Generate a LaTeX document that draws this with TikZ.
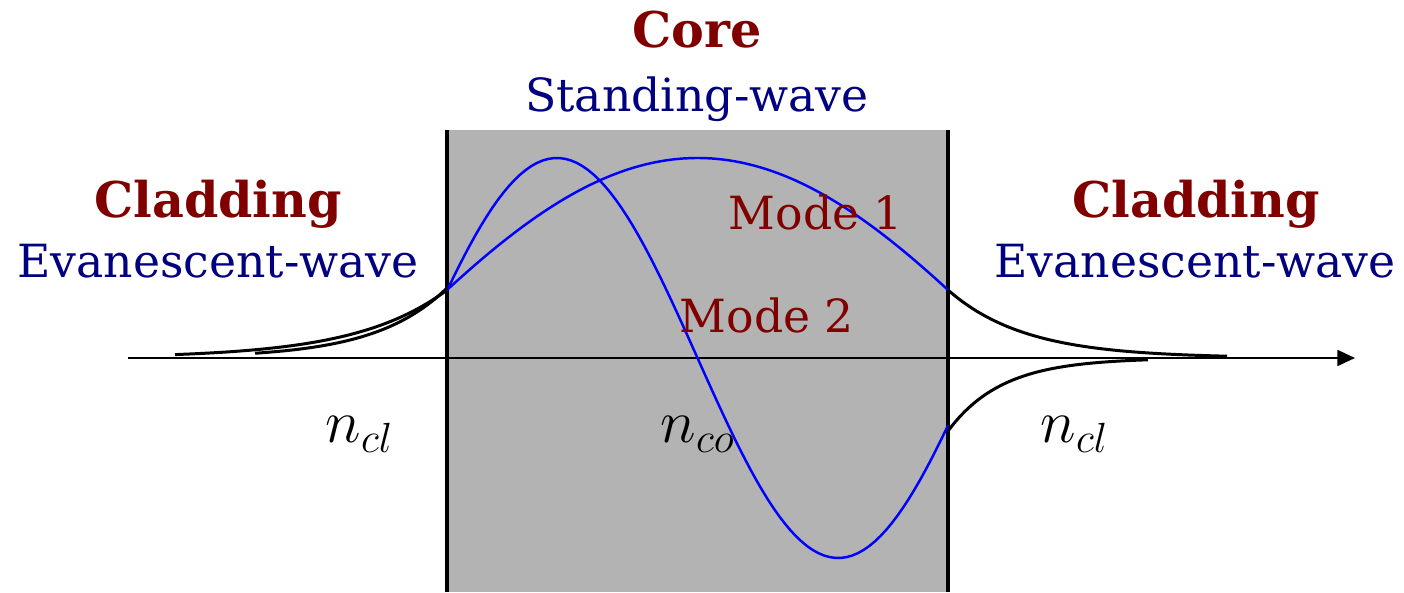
\documentclass[tikz,border=0pt]{standalone}
\usepackage{fontspec}
\setmainfont{DejaVu Serif}
\usepackage{tikz}
\usetikzlibrary{arrows.meta}
\definecolor{titlered}{RGB}{128,0,0}
\definecolor{wavenavy}{RGB}{0,0,128}
\definecolor{coregray}{RGB}{179,179,179}
\tikzset{
  region title/.style={
    font=\fontsize{14}{16}\selectfont\bfseries,
    text=titlered,
    inner sep=0pt,
    anchor=base
  },
  wave kind/.style={
    font=\fontsize{13}{15}\selectfont,
    text=wavenavy,
    inner sep=0pt,
    anchor=base
  },
  mode label/.style={
    font=\fontsize{13}{15}\selectfont,
    text=titlered,
    inner sep=0pt,
    anchor=base
  },
  index label/.style={
    font=\fontsize{17}{20}\selectfont,
    inner sep=0pt,
    anchor=base west
  },
  core mode/.style={
    blue,
    line width=0.7pt
  },
  clad mode/.style={
    black,
    line width=0.85pt
  },
  boundary/.style={
    black,
    line width=0.9pt
  },
  axis line/.style={
    -{Triangle[length=5pt, width=4.5pt]},
    line width=0.65pt
  }
}

\begin{document}
\begin{tikzpicture}
    \useasboundingbox (0, 0) rectangle (14.04, 5.92);

    % 1. core region
    \coordinate (CoreBL) at (4.49, 0);
    \coordinate (CoreTR) at (9.48, 4.62);
    \fill[coregray] (CoreBL) rectangle (CoreTR);
    \draw[boundary] (4.47, 0) -- (4.47, 4.62);
    \draw[boundary] (9.48, 0) -- (9.48, 4.62);

    % 2. axis
    \coordinate (AxisStart) at (1.28, 2.34);
    \coordinate (AxisEnd) at (13.55, 2.34);
    \draw[axis line] (AxisStart) -- (AxisEnd);

    % 3. mode 1 (even)
    % core: 2.0 cos(k (x - xc)), value 0.68 at the interfaces
    \draw[core mode] plot[domain=4.47:9.48, samples=90]
      (\x, {2.34 + 2.0*cos(27.99*(\x - 6.975))});
    \draw[clad mode] plot[domain=1.75:4.47, samples=60]
      (\x, {2.34 + 0.68*exp(1.1*(\x - 4.47))});
    \draw[clad mode] plot[domain=9.48:12.27, samples=60]
      (\x, {2.34 + 0.68*exp(-1.3*(\x - 9.48))});

    % 4. mode 2 (odd)
    \draw[core mode] plot[domain=4.47:9.48, samples=90]
      (\x, {2.34 - 2.0*sin(64*(\x - 6.975))});
    \draw[clad mode] plot[domain=2.55:4.47, samples=60]
      (\x, {2.34 + 0.70*exp(1.4*(\x - 4.47))});
    \draw[clad mode] plot[domain=9.48:11.48, samples=60]
      (\x, {2.34 - 0.73*exp(-1.85*(\x - 9.48))});

    % 5. labels
    \node[region title] (CoreTitle) at (6.97, 5.44) {Core};
    \node[wave kind] (CoreWave) at (6.97, 4.80) {Standing-wave};
    \node[region title] (CladLeftTitle) at (2.18, 3.74) {Cladding};
    \node[wave kind] (CladLeftWave) at (2.18, 3.14) {Evanescent-wave};
    \node[region title] (CladRightTitle) at (11.96, 3.74) {Cladding};
    \node[wave kind] (CladRightWave) at (11.95, 3.14) {Evanescent-wave};
    \node[mode label] (ModeOne) at (8.16, 3.62) {Mode 1};
    \node[mode label] (ModeTwo) at (7.67, 2.59) {Mode 2};

    \node[index label] (IndexCladLeft) at (3.25, 1.49) {$n_{cl}$};
    \node[index label] (IndexCore) at (6.60, 1.49) {$n_{co}$};
    \node[index label] (IndexCladRight) at (10.40, 1.49) {$n_{cl}$};

\end{tikzpicture}
\end{document}
